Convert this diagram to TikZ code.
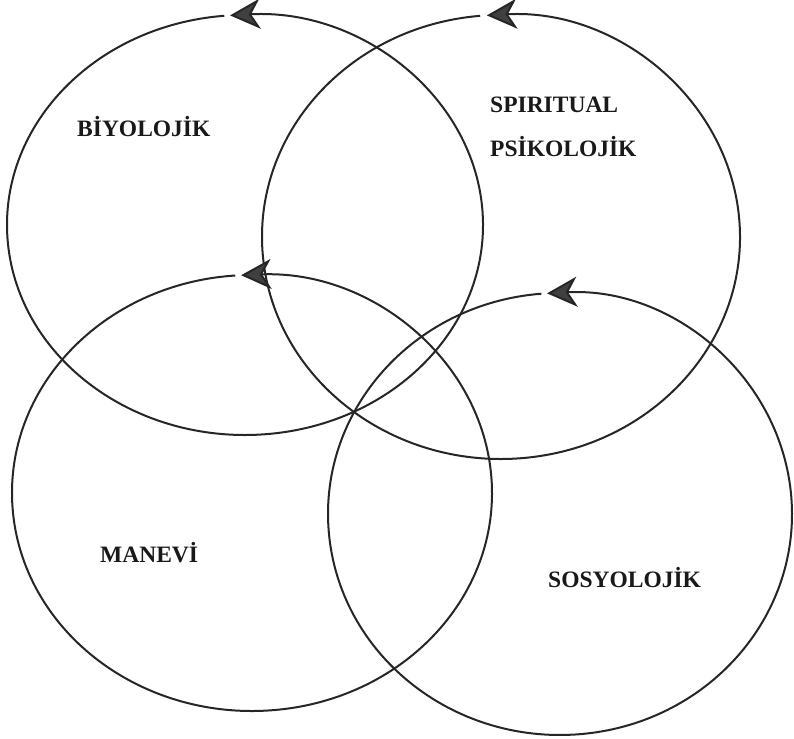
\documentclass[tikz,border=0pt]{standalone}
\usepackage{fontspec}
\setmainfont{Liberation Serif}
\usetikzlibrary{arrows.meta}
\begin{document}
\begin{tikzpicture}[x=1pt,y=1pt,
  ring/.style={line width=2pt, draw=black!85, -{Stealth[length=30pt,width=30pt,inset=9pt,fill=black!75]}},
  lbl/.style={font=\bfseries\fontsize{23.5}{23.5}\selectfont, text=black!90, inner sep=0pt}]
\useasboundingbox (0,0) rectangle (794,738);
% circles (centre, radii, arrow tip angle)
\draw[ring] ([shift={(95:238 and 210)}]245,513) arc[start angle=95, end angle=453.6, x radius=238, y radius=210];
\draw[ring] ([shift={(95:239 and 222)}]501,501) arc[start angle=95, end angle=453.4, x radius=239, y radius=222];
\draw[ring] ([shift={(94:240 and 218)}]252,245) arc[start angle=94, end angle=452.6, x radius=240, y radius=218];
\draw[ring] ([shift={(94.6:232 and 221)}]560,224) arc[start angle=94.6, end angle=453.2, x radius=232, y radius=221];
% labels
\node[lbl, anchor=base west] (bio) at (77,601) {BİYOLOJİK};
\node[lbl, anchor=base west] (spi) at (490,625) {SPIRITUAL};
\node[lbl, anchor=base west] (psi) at (490,581) {PSİKOLOJİK};
\node[lbl, anchor=base west] (man) at (100,175) {MANEVİ};
\node[lbl, anchor=base west] (sos) at (548,150) {SOSYOLOJİK};
\end{tikzpicture}
\end{document}
